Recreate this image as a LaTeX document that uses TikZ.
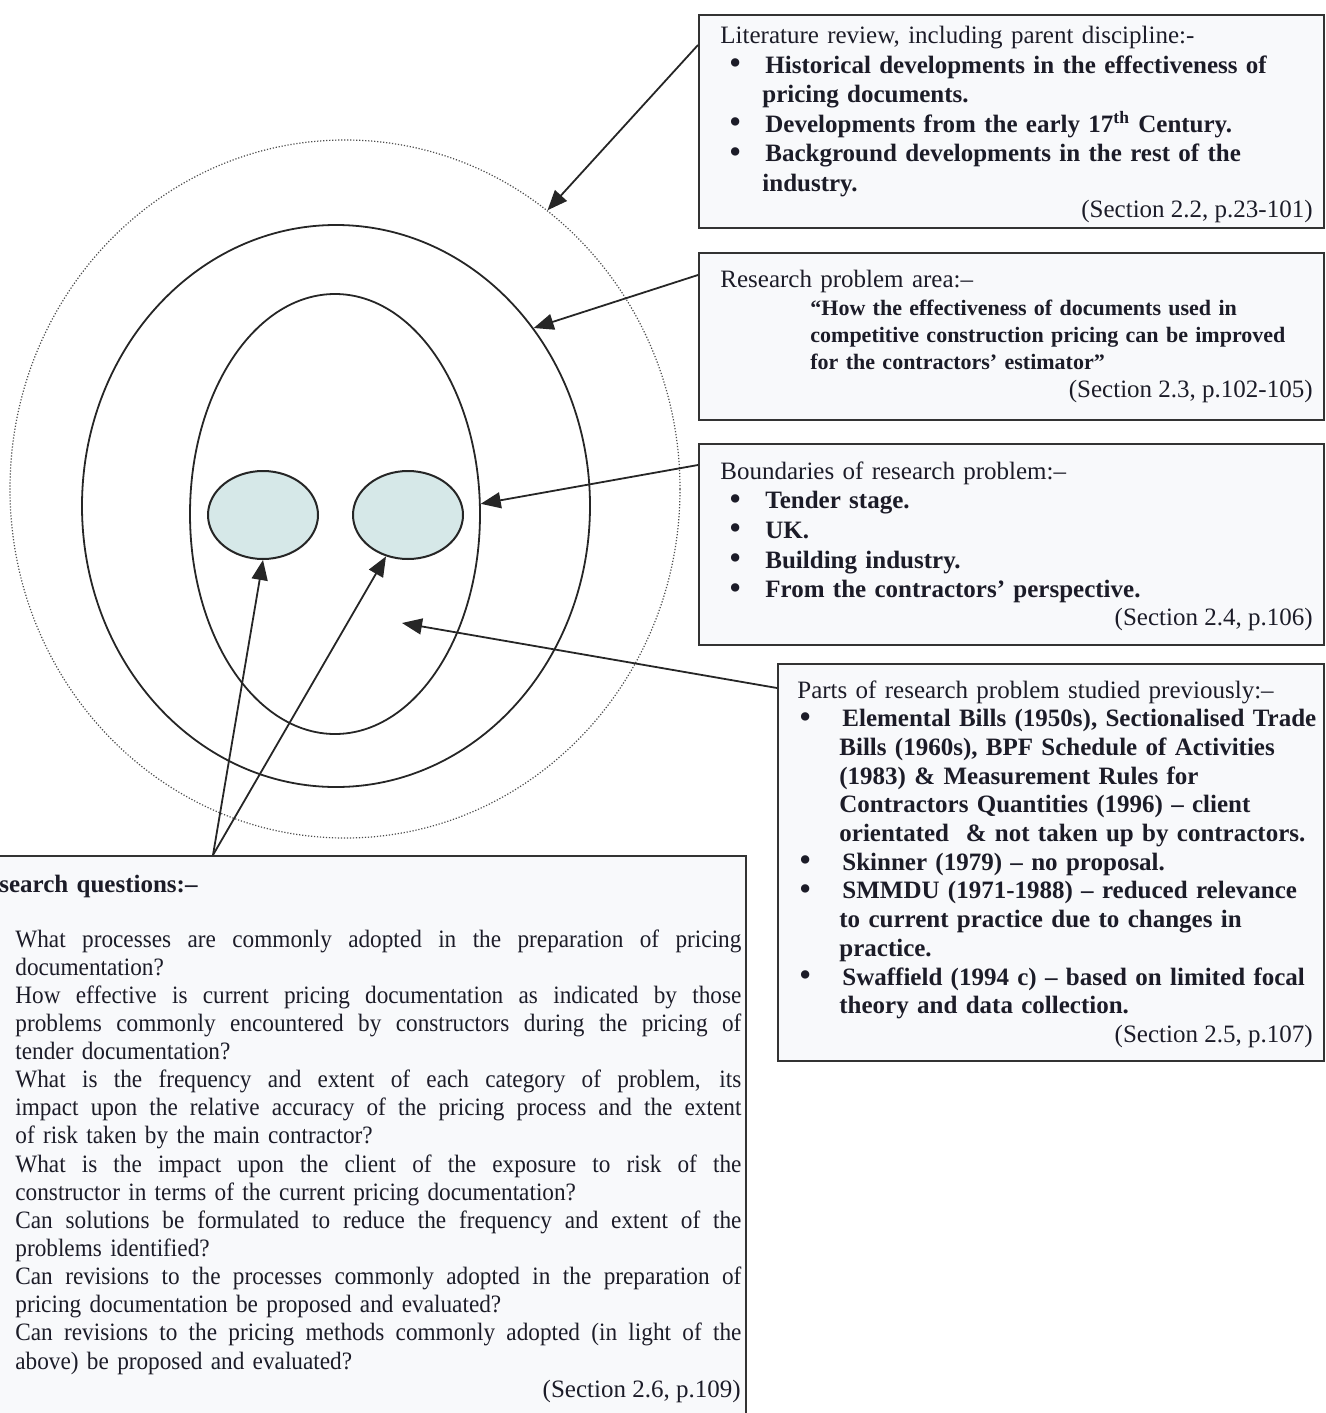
\documentclass[tikz,border=0pt]{standalone}
\usepackage{fontspec}
\setmainfont{Liberation Serif}
\newfontfamily\condfont[FakeStretch=0.93]{Liberation Serif}
\usepackage{graphicx}
\usepackage{xcolor}
\usetikzlibrary{shapes.geometric, arrows.meta, positioning, calc}

\definecolor{inkcol}{RGB}{28,28,40}
\definecolor{cellfill}{RGB}{214,232,232}
\definecolor{paperfill}{RGB}{248,249,251}

% bullet line, continuation line, justified line
\newcommand{\bdot}{\smash{\raisebox{-0.7pt}{\scalebox{1.4}{\textbullet}}}}
\newcommand{\bpt}[2][4.3pt]{\hspace*{#1}\makebox[\dimexpr22.5pt-#1\relax][l]{\bdot}\textbf{#2}}
\newcommand{\bcont}[1]{\hspace*{21pt}\textbf{#1}}
\newcommand{\jline}[1]{\makebox[363pt][l]{\spaceskip=0.25em plus 1fill minus 0.08em\relax #1}}

\begin{document}
\begin{tikzpicture}[
    x=0.5pt, y=-0.5pt,
    dotring/.style={ellipse, draw=black!70, line width=0.6pt, dash pattern=on 0.6pt off 0.9pt, inner sep=0pt},
    ring/.style={ellipse, draw=black!85, line width=0.9pt, inner sep=0pt},
    cell/.style={ellipse, draw=black!85, line width=1pt, fill=cellfill, inner sep=0pt, minimum width=55pt, minimum height=44pt},
    panel/.style={rectangle, draw=black!80, line width=1.1pt, fill=paperfill, anchor=north west, inner sep=0pt},
    txt/.style={anchor=base west, inner sep=0pt, text width=330pt, align=left, text=inkcol, font=\fontsize{12.5}{#1}\selectfont},
    sec/.style={anchor=base east, inner sep=0pt, text=inkcol, font=\fontsize{12.5}{15}\selectfont},
    arr/.style={-{Triangle[length=10pt, width=8pt]}, line width=0.9pt, draw=black!85}
]
    \useasboundingbox (0,0) rectangle (1326,1413);
    \clip (0,0) rectangle (1326,1413);

    % Vòng tròn đồng tâm bên trái
    \node[dotring, minimum width=335pt, minimum height=349pt] (litring) at (345,489) {};
    \node[ring, minimum width=254pt, minimum height=281pt] (arearing) at (336,506) {};
    \node[ring, minimum width=145pt, minimum height=220pt] (boundring) at (335,514) {};
    \node[cell] (leftcell) at (263,515) {};
    \node[cell] (rightcell) at (408,515) {};
    \coordinate (prevpt) at (402,623);

    % Hộp 1: literature review
    \node[panel, minimum width=312.5pt, minimum height=106.5pt] (litbox) at (698,14) {};
    \node[txt=14.75pt] (littext) at (720,44) {Literature review, including parent discipline:-\\
        \bpt{Historical developments in the effectiveness of}\\
        \bcont{pricing documents.}\\
        \bpt{Developments from the early 17\textsuperscript{th} Century.}\\
        \bpt{Background developments in the rest of the}\\
        \bcont{industry.}};
    \node[sec] (litsec) at (1313,217) {(Section 2.2, p.23-101)};

    % Hộp 2: research problem area
    \node[panel, minimum width=312.5pt, minimum height=83.5pt] (areabox) at (698,252) {};
    \node[txt=15pt] (areahead) at (720,287) {Research problem area:–};
    \node[txt=13.5pt, font=\fontsize{11}{13.5}\selectfont\bfseries] (areaquote) at (810,315) {“How the effectiveness of documents used in\\
        competitive construction pricing can be improved\\
        for the contractors’ estimator”};
    \node[sec] (areasec) at (1313,397) {(Section 2.3, p.102-105)};

    % Hộp 3: boundaries
    \node[panel, minimum width=312.5pt, minimum height=100.5pt] (boundbox) at (698,443) {};
    \node[txt=14.85pt] (boundtext) at (720,479) {Boundaries of research problem:–\\
        \bpt{Tender stage.}\\
        \bpt{UK.}\\
        \bpt{Building industry.}\\
        \bpt{From the contractors’ perspective.}};
    \node[sec] (boundsec) at (1313,625) {(Section 2.4, p.106)};

    % Hộp 4: parts studied previously
    \node[panel, minimum width=273pt, minimum height=198.5pt] (prevbox) at (777,663) {};
    \node[txt=14.35pt] (prevtext) at (797,698) {Parts of research problem studied previously:–\\
        \bpt[0.8pt]{Elemental Bills (1950s), Sectionalised Trade}\\
        \bcont{Bills (1960s), BPF Schedule of Activities}\\
        \bcont{(1983) \& Measurement Rules for}\\
        \bcont{Contractors Quantities (1996) – client}\\
        \bcont{orientated \ \& not taken up by contractors.}\\
        \bpt[0.8pt]{Skinner (1979) – no proposal.}\\
        \bpt[0.8pt]{SMMDU (1971-1988) – reduced relevance}\\
        \bcont{to current practice due to changes in}\\
        \bcont{practice.}\\
        \bpt[0.8pt]{Swaffield (1994 c) – based on limited focal}\\
        \bcont{theory and data collection.}};
    \node[sec] (prevsec) at (1313,1042) {(Section 2.5, p.107)};

    % Hộp 5: research questions
    \node[panel, minimum width=385pt, minimum height=292.5pt] (questbox) at (-25,855) {};
    \node[txt=15pt, font=\fontsize{12.5}{15}\selectfont\bfseries] (questhead) at (-1,892) {search questions:–};
    \node[txt=14.07pt, text width=380pt, font=\condfont\fontsize{12.5}{14.07}\selectfont] (questtext) at (15,947) {\jline{What processes are commonly adopted in the preparation of pricing}\\
        documentation?\\
        \jline{How effective is current pricing documentation as indicated by those}\\
        \jline{problems commonly encountered by constructors during the pricing of}\\
        tender documentation?\\
        \jline{What is the frequency and extent of each category of problem, its}\\
        \jline{impact upon the relative accuracy of the pricing process and the extent}\\
        of risk taken by the main contractor?\\
        \jline{What is the impact upon the client of the exposure to risk of the}\\
        constructor in terms of the current pricing documentation?\\
        \jline{Can solutions be formulated to reduce the frequency and extent of the}\\
        problems identified?\\
        \jline{Can revisions to the processes commonly adopted in the preparation of}\\
        pricing documentation be proposed and evaluated?\\
        \jline{Can revisions to the pricing methods commonly adopted (in light of the}\\
        above) be proposed and evaluated?};
    \node[sec] (questsec) at (741,1397) {(Section 2.6, p.109)};
    \coordinate (qtop) at ([xshift=119pt]questbox.north west);

    % Mũi tên từ các hộp vào vòng tròn
    \draw[arr] ([yshift=-15.5pt]litbox.north west) -- (litring.54);
    \draw[arr] ([yshift=-11.5pt]areabox.north west) -- (arearing.42);
    \draw[arr] ([yshift=-11pt]boundbox.north west) -- (boundring.4);
    \draw[arr] ([yshift=-12.5pt]prevbox.north west) -- (prevpt);
    \draw[arr] (qtop) -- (leftcell.south);
    \draw[arr] (qtop) -- (rightcell.-118);
\end{tikzpicture}
\end{document}
